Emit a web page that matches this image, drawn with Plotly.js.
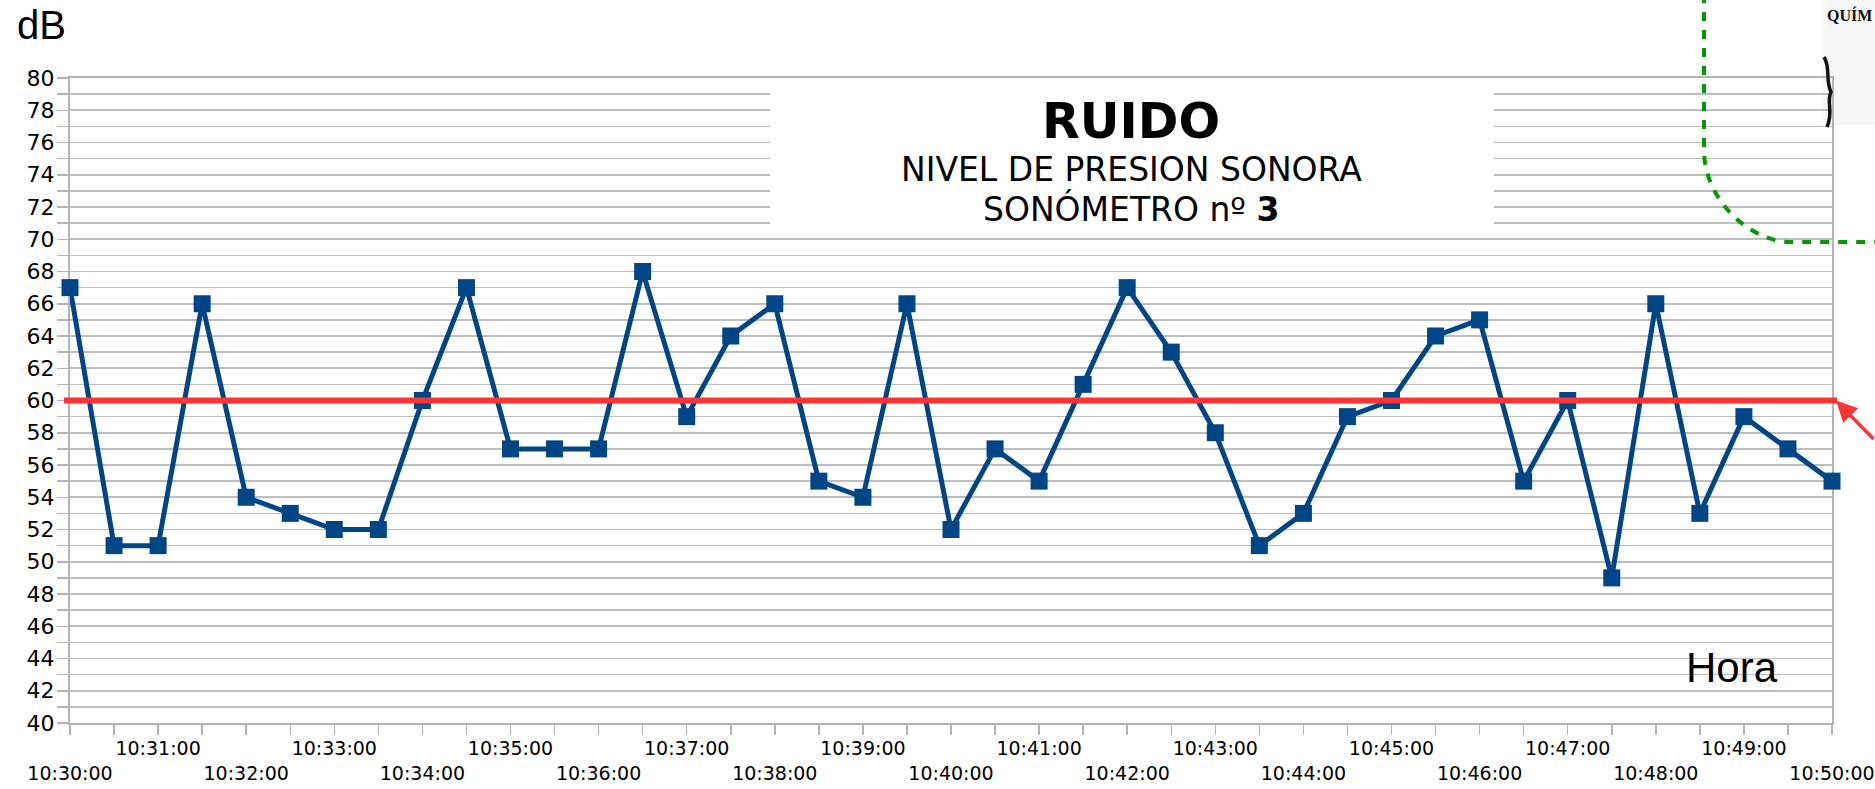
<!DOCTYPE html>
<html>
<head>
<meta charset="utf-8">
<script src="https://cdn.plot.ly/plotly-3.0.1.min.js"></script>
<style>html,body{margin:0;padding:0;background:#fff;}#chart{width:1875px;height:789px;}</style>
</head>
<body>
<div id="chart"></div>
<script>
// ---- data ----
const HORAS = [
  "10:30:00","10:30:30","10:31:00","10:31:30","10:32:00","10:32:30","10:33:00","10:33:30",
  "10:34:00","10:34:30","10:35:00","10:35:30","10:36:00","10:36:30","10:37:00","10:37:30",
  "10:38:00","10:38:30","10:39:00","10:39:30","10:40:00","10:40:30","10:41:00","10:41:30",
  "10:42:00","10:42:30","10:43:00","10:43:30","10:44:00","10:44:30","10:45:00","10:45:30",
  "10:46:00","10:46:30","10:47:00","10:47:30","10:48:00","10:48:30","10:49:00","10:49:30",
  "10:50:00"
];
const NIVEL_DB = [
  67,51,51,66,54,53,52,52,
  60,67,57,57,57,68,59,64,
  66,55,54,66,52,57,55,61,
  67,63,58,51,53,59,60,64,
  65,55,60,49,66,53,59,57,
  55
];
const LIMITE_DB = 60;
const Y_TICKS = [40,41,42,43,44,45,46,47,48,49,50,51,52,53,54,55,56,57,58,59,60,
                 61,62,63,64,65,66,67,68,69,70,71,72,73,74,75,76,77,78,79,80];
const Y_RANGE = [40, 80];
const TITULO = "RUIDO";
const SUBTITULO_1 = "NIVEL DE PRESION SONORA";
const SUBTITULO_2 = "SONÓMETRO nº <b>3</b>";
const Y_LABEL = "dB";
const X_LABEL = "Hora";
const IMAGEN_TEXTO = "QUÍM";

// ---- build ----
const DAY = "2024-01-01 ";
const xs = HORAS.map(h => DAY + h);
const xTickText = HORAS.map((h, i) => {
  if (i % 2 !== 0) return "";
  const minuteIdx = i / 2;
  return (minuteIdx % 2 === 0) ? "\u00a0<br>" + h : h;
});
const yTickText = Y_TICKS.map(v => (v % 2 === 0 ? String(v) : ""));

// pixel helpers for decorations outside the data (page 1875x789, plot 70..1832 x 78..723)
const L = 70, R = 1832, T = 78, B = 723;
const px = x => (x - L) / (R - L);
const py = y => (B - y) / (B - T);

const trace = {
  x: xs, y: NIVEL_DB, type: "scatter", mode: "lines+markers",
  line: {color: "#004586", width: 5},
  marker: {symbol: "square", size: 17, color: "#004586", line: {width: 0}},
  cliponaxis: false, hoverinfo: "x+y"
};

const greenPath = "M " + px(1704) + " " + py(-6) +
  " L " + px(1704) + " " + py(150) +
  " C " + px(1704) + " " + py(200.8) + " " + px(1751.5) + " " + py(242) + " " + px(1790) + " " + py(242) +
  " L " + px(1885) + " " + py(242);
const sketchPath = "M " + px(1824) + " " + py(57) +
  " C " + px(1831) + " " + py(68) + " " + px(1825) + " " + py(80) + " " + px(1831) + " " + py(92) +
  " C " + px(1826) + " " + py(102) + " " + px(1834) + " " + py(112) + " " + px(1827) + " " + py(127);

const layout = {
  width: 1875, height: 789, autosize: false,
  margin: {l: L, r: 1875 - R, t: T, b: 789 - B, pad: 0},
  paper_bgcolor: "#ffffff", plot_bgcolor: "rgba(0,0,0,0)",
  showlegend: false,
  xaxis: {
    type: "date", range: [xs[0], xs[xs.length - 1]],
    tickmode: "array", tickvals: xs, ticktext: xTickText,
    ticks: "outside", ticklen: 10, tickwidth: 1.5, tickcolor: "#b3b3b3",
    showgrid: false, zeroline: false,
    showline: true, linecolor: "#b3b3b3", linewidth: 2, mirror: true,
    tickfont: {family: "DejaVu Sans", size: 19, color: "#000"},
    tickangle: 0, ticklabelstandoff: -3, layer: "below traces", fixedrange: true
  },
  yaxis: {
    range: Y_RANGE, tickmode: "array", tickvals: Y_TICKS, ticktext: yTickText,
    ticks: "outside", ticklen: 11, tickwidth: 1.5, tickcolor: "#b3b3b3",
    showgrid: true, gridcolor: "#bdbdbd", gridwidth: 1.6, zeroline: false,
    showline: true, linecolor: "#b3b3b3", linewidth: 2, mirror: true,
    tickfont: {family: "DejaVu Sans", size: 22, color: "#000"},
    ticklabelstandoff: -2, layer: "below traces", fixedrange: true
  },
  shapes: [
    // picture fragment (top right)
    {type: "rect", xref: "paper", yref: "paper", x0: px(1823), x1: px(1885), y0: py(125), y1: py(-6),
     fillcolor: "#f6f6f6", line: {width: 0}, layer: "below"},
    {type: "path", xref: "paper", yref: "paper", path: sketchPath,
     line: {color: "#111", width: 3.5}, layer: "above"},
    // title box covering gridlines
    {type: "rect", xref: "paper", yref: "paper", x0: px(770), x1: px(1494), y0: py(232), y1: py(86),
     fillcolor: "#ffffff", line: {width: 0}, layer: "above"},
    // limit line
    {type: "line", xref: "paper", yref: "y", x0: px(64), x1: px(1837), y0: LIMITE_DB, y1: LIMITE_DB,
     line: {color: "#ff3333", width: 6}, layer: "above"},
    // green dashed curve
    {type: "path", xref: "paper", yref: "paper", path: greenPath,
     line: {color: "#009900", width: 4, dash: "9px,9px"}, layer: "above"}
  ],
  annotations: [
    {xref: "paper", yref: "paper", x: px(1131), y: py(121), xanchor: "center", yanchor: "middle",
     text: "<b>" + TITULO + "</b>", showarrow: false,
     font: {family: "DejaVu Sans", size: 49, color: "#000"}},
    {xref: "paper", yref: "paper", x: px(1131), y: py(169), xanchor: "center", yanchor: "middle",
     text: SUBTITULO_1, showarrow: false,
     font: {family: "DejaVu Sans", size: 33, color: "#000"}},
    {xref: "paper", yref: "paper", x: px(1131), y: py(209), xanchor: "center", yanchor: "middle",
     text: SUBTITULO_2, showarrow: false,
     font: {family: "DejaVu Sans", size: 33, color: "#000"}},
    {xref: "paper", yref: "paper", x: px(15), y: py(25), xanchor: "left", yanchor: "middle",
     text: Y_LABEL, showarrow: false,
     font: {family: "Liberation Sans", size: 40, color: "#000"}},
    {xref: "paper", yref: "paper", x: px(1732), y: py(667), xanchor: "center", yanchor: "middle",
     text: X_LABEL, showarrow: false,
     font: {family: "Liberation Sans", size: 42, color: "#000"}},
    {xref: "paper", yref: "paper", x: px(1825), y: py(15), xanchor: "left", yanchor: "middle",
     text: "<b>" + IMAGEN_TEXTO + "</b>", showarrow: false,
     font: {family: "Liberation Serif", size: 16, color: "#111"}},
    // red arrow pointing at the limit line
    {xref: "paper", yref: "y", x: px(1836), y: LIMITE_DB, text: "", showarrow: true,
     arrowhead: 2, arrowsize: 1.2, arrowwidth: 3.5, arrowcolor: "#ff3333",
     ax: 70, ay: 40, axref: "pixel", ayref: "pixel", standoff: 0}
  ]
};

Plotly.newPlot("chart", [trace], layout, {displayModeBar: false, staticPlot: true});
</script>
</body>
</html>
